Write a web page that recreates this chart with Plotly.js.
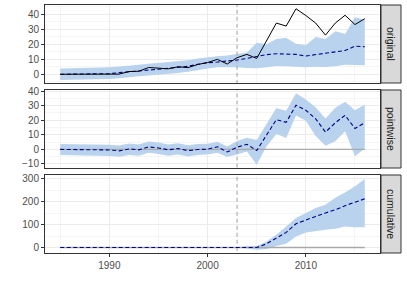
<!DOCTYPE html>
<html><head><meta charset="utf-8">
<script src="https://cdn.plot.ly/plotly-3.0.1.min.js"></script>
<style>html,body{margin:0;padding:0;background:#fff}</style>
</head><body><div id="chart" style="width:407px;height:291px"></div>
<script>
const years = [1985,1986,1987,1988,1989,1990,1991,1992,1993,1994,1995,1996,1997,1998,1999,2000,
               2001,2002,2003,2004,2005,2006,2007,2008,2009,2010,2011,2012,2013,2014,2015,2016];
const interventionYear = 2003;
const panelLabels = ['original', 'pointwise', 'cumulative'];

const observed  = [0,0,0,0,0,0,0.1,1.8,2.0,4.5,4.3,3.6,5.0,4.4,6.5,7.8,
                   9.9,6.8,11.0,13.2,10.5,22.0,34.0,32.0,43.5,39.0,34.0,26.0,34.0,39.2,33.0,36.9];
const predMean  = [0,0,0.05,0.1,0.2,0.4,1.1,1.5,2.3,2.8,3.3,3.9,4.4,5.3,6.6,7.7,
                   8.1,8.6,9.5,10.5,11.7,13.0,13.6,13.4,13.2,12.1,13.0,14.3,15.2,15.8,18.7,18.3];
const predUpper = [3.8,3.9,4.0,4.1,4.3,4.6,5.2,5.6,6.3,6.9,7.4,7.9,8.6,9.3,10.4,11.4,
                   12.0,12.5,13.5,14.5,21.0,20.0,23.5,24.2,20.2,19.3,24.8,23.5,28.5,26.8,37.8,36.3];
const predLower = [-3.8,-3.7,-3.6,-3.5,-3.3,-3.1,-2.6,-2.2,-1.4,-0.9,-0.4,0.2,0.8,1.6,2.8,3.9,
                   4.6,4.8,4.6,4.2,4.0,4.6,5.5,5.4,4.9,4.7,5.0,4.8,5.4,6.4,6.2,6.0];

const pointMean  = [0,0,-0.05,-0.1,-0.2,-0.4,-1.0,0.3,-0.3,1.7,1.0,-0.3,0.6,-0.9,-0.1,0.1,
                    1.8,-1.8,1.5,3.5,-0.8,9.5,20.4,18.6,30.3,26.9,21.0,11.9,18.3,23.4,14.3,18.4];
const pointUpper = [3.7,3.7,3.6,3.5,3.4,3.2,2.7,4.0,3.4,5.4,4.7,3.4,4.2,2.8,3.7,3.9,
                    5.3,2.0,5.8,8.0,6.5,17.4,28.5,26.6,38.6,34.3,29.0,21.2,28.6,32.8,26.8,30.9];
const pointLower = [-3.8,-3.9,-4.0,-4.1,-4.3,-4.6,-5.1,-3.8,-4.3,-2.4,-3.1,-4.3,-3.6,-4.9,-3.9,-3.6,
                    -2.4,-5.3,-3.5,-1.5,-10.5,2.0,10.5,7.8,23.3,19.7,9.2,2.5,5.5,12.4,-4.8,0.6];

const cumMean  = [0,0,0,0,0,0,0,0,0,0,0,0,0,0,0,0,0,0,0,
                  2,0,16,41,66,104,121,136,151,165,183,197,213];
const cumUpper = [0,0,0,0,0,0,0,0,0,0,0,0,0,0,0,0,0,0,0,
                  5,7,26,56,92,129,151,173,187,217,241,268,300];
const cumLower = [0,0,0,0,0,0,0,0,0,0,0,0,0,0,0,0,0,0,0,
                  -4,-10,-6,7,16,48,66,73,78,82,92,89,89];

const yRanges = [[-5.8, 46], [-12.8, 40.8], [-24, 317]];
const BAND = '#B9D3EE', MEANC = '#00008B', GREYL = '#A9A9A9';

function bandTraces(lo, hi, xa, ya) {
  return [
    {x: years, y: hi, xaxis: xa, yaxis: ya, type: 'scatter', mode: 'lines',
     line: {width: 0, color: BAND}, hoverinfo: 'skip', showlegend: false},
    {x: years, y: lo, xaxis: xa, yaxis: ya, type: 'scatter', mode: 'lines',
     line: {width: 0, color: BAND}, fill: 'tonexty', fillcolor: BAND, hoverinfo: 'skip', showlegend: false}
  ];
}
function zeroLine(xa, ya) {
  return {x: [years[0], years[years.length - 1]], y: [0, 0], xaxis: xa, yaxis: ya,
          type: 'scatter', mode: 'lines', line: {color: GREYL, width: 1.3}, showlegend: false};
}
function vLine(xa, ya, r) {
  return {x: [interventionYear, interventionYear], y: [r[0] - 1000, r[1] + 1000], xaxis: xa, yaxis: ya,
          type: 'scatter', mode: 'lines', line: {color: GREYL, width: 1.1, dash: '4px,3px'}, showlegend: false};
}
function meanLine(y, xa, ya) {
  return {x: years, y: y, xaxis: xa, yaxis: ya, type: 'scatter', mode: 'lines',
          line: {color: MEANC, width: 1.1, dash: '4px,2.5px'}, showlegend: false};
}

const traces = [].concat(
  bandTraces(predLower, predUpper, 'x', 'y'),
  [vLine('x', 'y', yRanges[0]), meanLine(predMean, 'x', 'y'),
   {x: years, y: observed, xaxis: 'x', yaxis: 'y', type: 'scatter', mode: 'lines',
    line: {color: '#000000', width: 1}, showlegend: false}],
  bandTraces(pointLower, pointUpper, 'x2', 'y2'),
  [zeroLine('x2', 'y2'), vLine('x2', 'y2', yRanges[1]), meanLine(pointMean, 'x2', 'y2')],
  bandTraces(cumLower, cumUpper, 'x3', 'y3'),
  [zeroLine('x3', 'y3'), vLine('x3', 'y3', yRanges[2]), meanLine(cumMean, 'x3', 'y3')]
);

const FONT = 'Liberation Sans, Arial, sans-serif';
const xDom = [0, 335 / 356];
const yDoms = [[0.6855, 1], [0.3427, 0.6573], [0, 0.3145]];
const xRange = [1983.45, 2017.55];

function xAxis(anchor, showLabels) {
  return {domain: xDom, anchor: anchor, range: xRange, tick0: 1990, dtick: 10,
          showgrid: true, gridcolor: '#EBEBEB', gridwidth: 1,
          minor: {dtick: 5, tick0: 1985, showgrid: true, gridcolor: '#EBEBEB', gridwidth: 0.5, ticks: ''},
          showline: true, mirror: true, linecolor: '#333333', linewidth: 1,
          ticks: showLabels ? 'outside' : '', ticklen: 3, tickcolor: '#333333', tickwidth: 1,
          showticklabels: showLabels, tickfont: {family: FONT, size: 10, color: '#4D4D4D'},
          zeroline: false, fixedrange: true};
}
function yAxis(anchor, i, dt) {
  return {domain: yDoms[i], anchor: anchor, range: yRanges[i], dtick: dt, tick0: 0,
          showgrid: true, gridcolor: '#EBEBEB', gridwidth: 1,
          minor: {dtick: dt / 2, tick0: 0, showgrid: true, gridcolor: '#EBEBEB', gridwidth: 0.5, ticks: ''},
          showline: true, mirror: true, linecolor: '#333333', linewidth: 1,
          ticks: 'outside', ticklen: 3, tickcolor: '#333333', tickwidth: 1,
          tickfont: {family: FONT, size: 10, color: '#4D4D4D'},
          zeroline: false, fixedrange: true};
}

const shapes = [], annotations = [];
const sx0 = 336 / 356, sx1 = 1;
yDoms.forEach((d, i) => {
  shapes.push({type: 'rect', xref: 'paper', yref: 'paper', x0: sx0, x1: sx1, y0: d[0], y1: d[1],
               fillcolor: '#D9D9D9', line: {color: '#333333', width: 1}, layer: 'above'});
  annotations.push({xref: 'paper', yref: 'paper', x: (sx0 + sx1) / 2, y: (d[0] + d[1]) / 2,
                    text: panelLabels[i], showarrow: false, textangle: 90,
                    font: {family: FONT, size: 10.5, color: '#1A1A1A'},
                    xanchor: 'center', yanchor: 'middle'});
});

const layout = {
  width: 407, height: 291,
  margin: {l: 45, r: 6, t: 5, b: 38, pad: 0},
  paper_bgcolor: '#FFFFFF', plot_bgcolor: '#FFFFFF',
  showlegend: false,
  xaxis: xAxis('y', false), yaxis: yAxis('x', 0, 10),
  xaxis2: xAxis('y2', false), yaxis2: yAxis('x2', 1, 10),
  xaxis3: xAxis('y3', true), yaxis3: yAxis('x3', 2, 100),
  shapes: shapes, annotations: annotations
};

Plotly.newPlot('chart', traces, layout, {staticPlot: true, displayModeBar: false});
</script>
</body></html>
